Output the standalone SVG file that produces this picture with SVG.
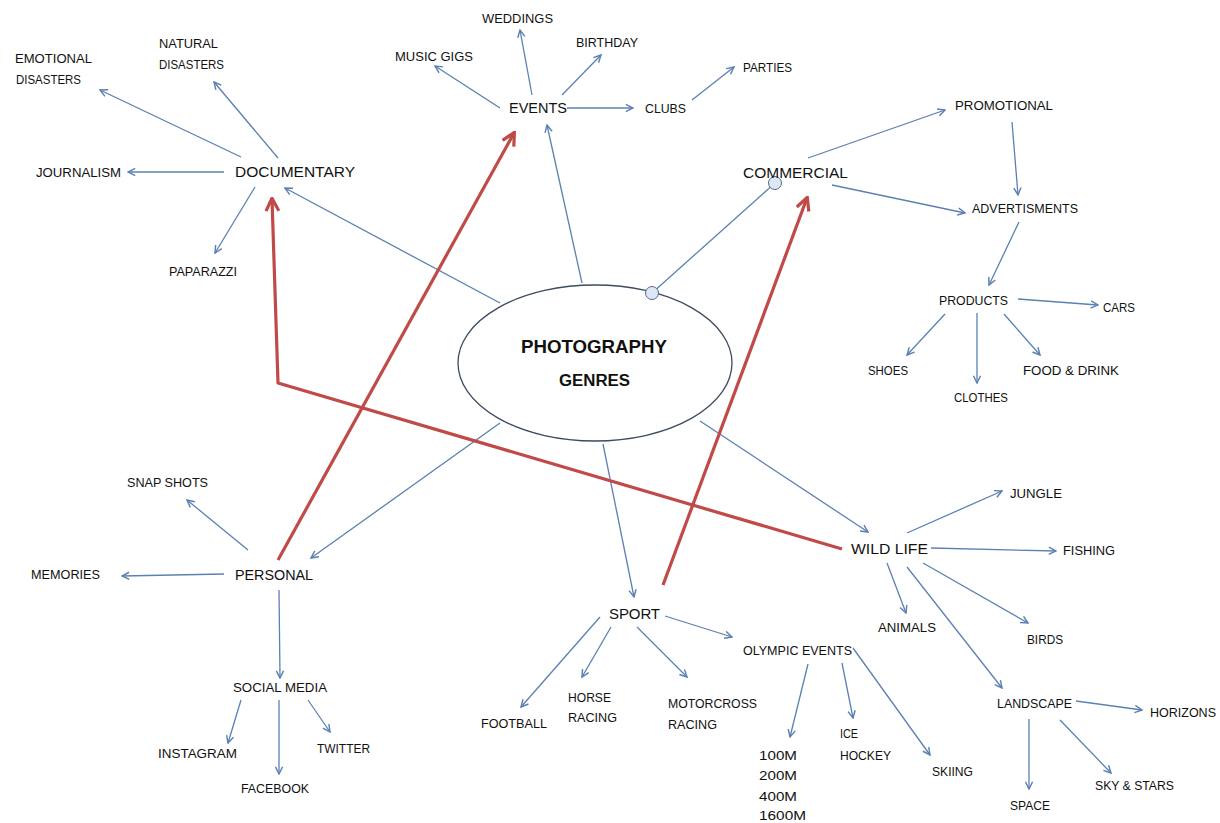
<svg xmlns="http://www.w3.org/2000/svg" width="1220" height="823" viewBox="0 0 1220 823">
<defs>
<style>
text{font-family:"Liberation Sans",Arial,sans-serif;fill:#111111}
.s{font-size:13px}
.m{font-size:15px}
.c{font-size:18px;font-weight:bold}
.bl{stroke:#5b80b2;stroke-width:1.3;fill:none}
.ba{stroke:#5b80b2;stroke-width:1.3;fill:none;marker-end:url(#ah)}
.rd{stroke:#bf4a47;stroke-width:3.2;fill:none;stroke-linejoin:round;marker-end:url(#rh)}
</style>
<marker id="ah" viewBox="0 0 10 10" refX="9" refY="5" markerWidth="9" markerHeight="9" markerUnits="userSpaceOnUse" orient="auto"><path d="M1,1 L9,5 L1,9" fill="none" stroke="#5b80b2" stroke-width="1.6"/></marker>
<marker id="rh" viewBox="0 0 10 10" refX="8.5" refY="5" markerWidth="16" markerHeight="16" markerUnits="userSpaceOnUse" orient="auto"><path d="M1,1 L9,5 L1,9" fill="none" stroke="#bf4a47" stroke-width="2"/></marker>
</defs>
<rect width="1220" height="823" fill="#ffffff"/>
<g id="center">
<ellipse cx="595" cy="363" rx="137" ry="78" fill="#ffffff" stroke="#3d4a60" stroke-width="1.3"/>
<text class="c" x="521" y="353" textLength="146" lengthAdjust="spacingAndGlyphs">PHOTOGRAPHY</text>
<text class="c" x="559" y="386" textLength="71" lengthAdjust="spacingAndGlyphs" style="font-size:16px">GENRES</text>
</g>
<g id="connectors">
<line class="ba" x1="500" y1="303" x2="285" y2="188"/>
<line class="ba" x1="582" y1="283" x2="547" y2="125"/>
<line class="ba" x1="500" y1="423" x2="311" y2="558"/>
<line class="ba" x1="603" y1="444" x2="634" y2="597"/>
<line class="ba" x1="700" y1="421" x2="868" y2="532"/>
<line class="bl" x1="652" y1="293" x2="775" y2="183"/>
<line class="ba" x1="241" y1="157" x2="100" y2="90"/>
<line class="ba" x1="278" y1="158" x2="214" y2="82"/>
<line class="ba" x1="224" y1="172" x2="128" y2="172"/>
<line class="ba" x1="255" y1="187" x2="215" y2="253"/>
<line class="ba" x1="500" y1="108" x2="435" y2="66"/>
<line class="ba" x1="532" y1="95" x2="520" y2="30"/>
<line class="ba" x1="562" y1="95" x2="601" y2="55"/>
<line class="ba" x1="567" y1="108" x2="633" y2="108"/>
<line class="ba" x1="692" y1="100" x2="734" y2="67"/>
<line class="ba" x1="808" y1="158" x2="945" y2="110"/>
<line class="ba" x1="1012" y1="122" x2="1018" y2="195"/>
<line class="ba" x1="832" y1="185" x2="965" y2="213"/>
<line class="ba" x1="1019" y1="222" x2="989" y2="285"/>
<line class="ba" x1="1018" y1="299" x2="1098" y2="305"/>
<line class="ba" x1="945" y1="314" x2="907" y2="355"/>
<line class="ba" x1="977" y1="313" x2="977" y2="383"/>
<line class="ba" x1="1004" y1="314" x2="1040" y2="355"/>
<line class="ba" x1="248" y1="550" x2="187" y2="500"/>
<line class="ba" x1="224" y1="574" x2="122" y2="576"/>
<line class="ba" x1="279" y1="590" x2="280" y2="678"/>
<line class="ba" x1="241" y1="700" x2="228" y2="743"/>
<line class="ba" x1="279" y1="700" x2="279" y2="774"/>
<line class="ba" x1="308" y1="700" x2="330" y2="732"/>
<line class="ba" x1="600" y1="617" x2="521" y2="707"/>
<line class="ba" x1="611" y1="627" x2="582" y2="677"/>
<line class="ba" x1="637" y1="627" x2="687" y2="677"/>
<line class="ba" x1="665" y1="616" x2="732" y2="637"/>
<line class="ba" x1="808" y1="664" x2="790" y2="737"/>
<line class="ba" x1="842" y1="663" x2="853" y2="718"/>
<line class="ba" x1="853" y1="648" x2="930" y2="755"/>
<line class="ba" x1="907" y1="533" x2="1002" y2="491"/>
<line class="ba" x1="931" y1="548" x2="1056" y2="551"/>
<line class="ba" x1="887" y1="563" x2="906" y2="613"/>
<line class="ba" x1="923" y1="563" x2="1028" y2="623"/>
<line class="ba" x1="907" y1="567" x2="1002" y2="688"/>
<line class="ba" x1="1076" y1="701" x2="1142" y2="710"/>
<line class="ba" x1="1029" y1="719" x2="1029" y2="789"/>
<line class="ba" x1="1060" y1="720" x2="1111" y2="773"/>
<polyline class="rd" points="842,549 278,383 272,199"/>
<line class="rd" x1="278" y1="560" x2="514" y2="133"/>
<line class="rd" x1="663" y1="585" x2="807" y2="198"/>
<circle cx="652" cy="293" r="6.5" fill="#dce8f5" stroke="#5a6a85" stroke-width="1"/>
<circle cx="775" cy="183" r="6.5" fill="#dce8f5" stroke="#5a6a85" stroke-width="1"/>
</g>
<g id="documentary">
<text class="m" x="235" y="177" textLength="120" lengthAdjust="spacingAndGlyphs">DOCUMENTARY</text>
<text class="s" x="15" y="62.5" textLength="77" lengthAdjust="spacingAndGlyphs">EMOTIONAL</text>
<text class="s" x="16" y="83.5" textLength="65" lengthAdjust="spacingAndGlyphs">DISASTERS</text>
<text class="s" x="159" y="47.5" textLength="59" lengthAdjust="spacingAndGlyphs">NATURAL</text>
<text class="s" x="159" y="68.5" textLength="65" lengthAdjust="spacingAndGlyphs">DISASTERS</text>
<text class="s" x="36" y="176.5" textLength="85" lengthAdjust="spacingAndGlyphs">JOURNALISM</text>
<text class="s" x="169" y="275.5" textLength="68" lengthAdjust="spacingAndGlyphs">PAPARAZZI</text>
</g>
<g id="events">
<text class="m" x="509" y="113" textLength="58" lengthAdjust="spacingAndGlyphs" style="font-size:14px">EVENTS</text>
<text class="s" x="482" y="22.5" textLength="71" lengthAdjust="spacingAndGlyphs">WEDDINGS</text>
<text class="s" x="395" y="60.5" textLength="78" lengthAdjust="spacingAndGlyphs">MUSIC GIGS</text>
<text class="s" x="576" y="46.5" textLength="62" lengthAdjust="spacingAndGlyphs">BIRTHDAY</text>
<text class="s" x="645" y="112.5" textLength="41" lengthAdjust="spacingAndGlyphs">CLUBS</text>
<text class="s" x="743" y="71.5" textLength="49" lengthAdjust="spacingAndGlyphs">PARTIES</text>
</g>
<g id="commercial">
<text class="m" x="743" y="178" textLength="105" lengthAdjust="spacingAndGlyphs">COMMERCIAL</text>
<text class="s" x="955" y="109.5" textLength="98" lengthAdjust="spacingAndGlyphs">PROMOTIONAL</text>
<text class="s" x="972" y="212.5" textLength="106" lengthAdjust="spacingAndGlyphs">ADVERTISMENTS</text>
<text class="s" x="939" y="304.5" textLength="69" lengthAdjust="spacingAndGlyphs">PRODUCTS</text>
<text class="s" x="1103" y="311.5" textLength="32" lengthAdjust="spacingAndGlyphs">CARS</text>
<text class="s" x="868" y="374.5" textLength="40" lengthAdjust="spacingAndGlyphs">SHOES</text>
<text class="s" x="954" y="401.5" textLength="54" lengthAdjust="spacingAndGlyphs">CLOTHES</text>
<text class="s" x="1023" y="374.5" textLength="96" lengthAdjust="spacingAndGlyphs">FOOD &amp; DRINK</text>
</g>
<g id="personal">
<text class="m" x="235" y="580" textLength="78" lengthAdjust="spacingAndGlyphs">PERSONAL</text>
<text class="s" x="127" y="486.5" textLength="81" lengthAdjust="spacingAndGlyphs">SNAP SHOTS</text>
<text class="s" x="31" y="578.5" textLength="69" lengthAdjust="spacingAndGlyphs">MEMORIES</text>
<text class="s" x="233" y="691.5" textLength="94" lengthAdjust="spacingAndGlyphs">SOCIAL MEDIA</text>
<text class="s" x="158" y="757.5" textLength="79" lengthAdjust="spacingAndGlyphs">INSTAGRAM</text>
<text class="s" x="241" y="792.5" textLength="68" lengthAdjust="spacingAndGlyphs">FACEBOOK</text>
<text class="s" x="317" y="752.5" textLength="53" lengthAdjust="spacingAndGlyphs">TWITTER</text>
</g>
<g id="sport">
<text class="m" x="609" y="619" textLength="51" lengthAdjust="spacing">SPORT</text>
<text class="s" x="481" y="727.5" textLength="66" lengthAdjust="spacingAndGlyphs">FOOTBALL</text>
<text class="s" x="568" y="701.5" textLength="43" lengthAdjust="spacingAndGlyphs">HORSE</text>
<text class="s" x="568" y="721.5" textLength="49" lengthAdjust="spacingAndGlyphs">RACING</text>
<text class="s" x="668" y="707.5" textLength="89" lengthAdjust="spacingAndGlyphs">MOTORCROSS</text>
<text class="s" x="668" y="728.5" textLength="49" lengthAdjust="spacingAndGlyphs">RACING</text>
<text class="s" x="743" y="654.5" textLength="109" lengthAdjust="spacingAndGlyphs">OLYMPIC EVENTS</text>
<text class="s" x="759" y="759.5" textLength="38" lengthAdjust="spacingAndGlyphs">100M</text>
<text class="s" x="759" y="779.5" textLength="38" lengthAdjust="spacingAndGlyphs">200M</text>
<text class="s" x="759" y="800.5" textLength="38" lengthAdjust="spacingAndGlyphs">400M</text>
<text class="s" x="759" y="819.5" textLength="47" lengthAdjust="spacingAndGlyphs">1600M</text>
<text class="s" x="840" y="737.5" textLength="18" lengthAdjust="spacingAndGlyphs">ICE</text>
<text class="s" x="840" y="759.5" textLength="51" lengthAdjust="spacingAndGlyphs">HOCKEY</text>
<text class="s" x="932" y="775.5" textLength="41" lengthAdjust="spacingAndGlyphs">SKIING</text>
</g>
<g id="wildlife">
<text class="m" x="851" y="554" textLength="77" lengthAdjust="spacingAndGlyphs">WILD LIFE</text>
<text class="s" x="1010" y="497.5" textLength="52" lengthAdjust="spacingAndGlyphs">JUNGLE</text>
<text class="s" x="1063" y="554.5" textLength="52" lengthAdjust="spacingAndGlyphs">FISHING</text>
<text class="s" x="878" y="631.5" textLength="58" lengthAdjust="spacingAndGlyphs">ANIMALS</text>
<text class="s" x="1027" y="643.5" textLength="36" lengthAdjust="spacingAndGlyphs">BIRDS</text>
<text class="s" x="997" y="707.5" textLength="75" lengthAdjust="spacingAndGlyphs">LANDSCAPE</text>
<text class="s" x="1150" y="716.5" textLength="66" lengthAdjust="spacingAndGlyphs">HORIZONS</text>
<text class="s" x="1010" y="809.5" textLength="40" lengthAdjust="spacingAndGlyphs">SPACE</text>
<text class="s" x="1095" y="789.5" textLength="79" lengthAdjust="spacingAndGlyphs">SKY &amp; STARS</text>
</g>
</svg>
